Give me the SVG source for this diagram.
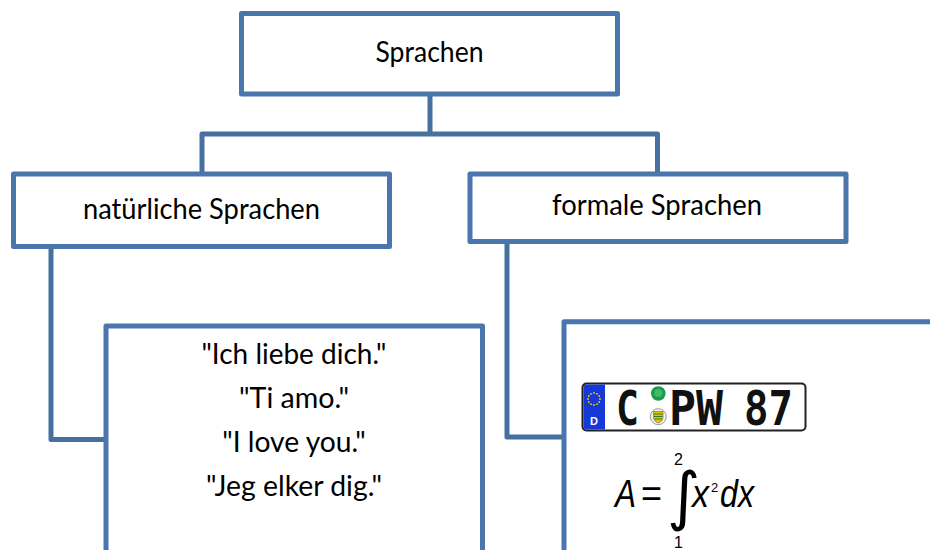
<svg xmlns="http://www.w3.org/2000/svg" width="930" height="550" viewBox="0 0 930 550">
<style>
.box{fill:#fff;stroke:#4A75AD;stroke-width:5;stroke-linejoin:round}
.con{fill:none;stroke:#46709F;stroke-width:5;stroke-linejoin:round}
.lbl{font-family:Lato,"Open Sans","Liberation Sans",sans-serif;font-size:28px;fill:#000;text-anchor:middle}
.plate{font-family:"DejaVu Sans Mono","Liberation Mono",monospace;font-weight:bold;font-size:48px;fill:#111}
.math{font-family:"Liberation Sans",Arial,sans-serif;fill:#000}
</style>
<rect width="930" height="550" fill="#fff"/>
<g id="connectors">
<path class="con" d="M430,94 V134"/>
<path class="con" d="M202,174 V134 H657.5 V174"/>
<path class="con" d="M51,246.5 V439.5 H106"/>
<path class="con" d="M507,241.5 V437 H564"/>
</g>
<g id="node-sprachen">
<rect class="box" x="241.5" y="13.5" width="376" height="80.5"/>
<text class="lbl" x="429.5" y="62" textLength="108" lengthAdjust="spacingAndGlyphs">Sprachen</text>
</g>
<g id="node-natuerlich">
<rect class="box" x="13.5" y="174" width="376" height="72.5"/>
<text class="lbl" x="201.5" y="219" textLength="237" lengthAdjust="spacingAndGlyphs">natürliche Sprachen</text>
</g>
<g id="node-formal">
<rect class="box" x="470" y="174" width="376" height="67.5"/>
<text class="lbl" x="657" y="215" textLength="210" lengthAdjust="spacingAndGlyphs">formale Sprachen</text>
</g>
<g id="node-beispiele-natuerlich">
<rect class="box" x="106" y="326" width="376.5" height="300"/>
<text class="lbl" x="294" y="364" textLength="185" lengthAdjust="spacingAndGlyphs">"Ich liebe dich."</text>
<text class="lbl" x="294" y="408" textLength="110" lengthAdjust="spacingAndGlyphs">"Ti amo."</text>
<text class="lbl" x="294" y="452" textLength="143.5" lengthAdjust="spacingAndGlyphs">"I love you."</text>
<text class="lbl" x="294" y="496" textLength="176" lengthAdjust="spacingAndGlyphs">"Jeg elker dig."</text>
</g>
<g id="node-beispiele-formal">
<rect class="box" x="564" y="321.7" width="400" height="300"/>
<g id="plate">
<rect x="582.5" y="383.5" width="223" height="47" rx="4" fill="#fff" stroke="#222" stroke-width="2"/>
<path d="M586.5,384.5 H605 V429.5 H586.5 Q583.5,429.5 583.5,426.5 V387.5 Q583.5,384.5 586.5,384.5 Z" fill="#1638D6"/>
<g fill="#F5D000">
<circle cx="594" cy="393" r="0.9"/><circle cx="597" cy="393.8" r="0.9"/><circle cx="599.2" cy="396" r="0.9"/>
<circle cx="600" cy="399" r="0.9"/><circle cx="599.2" cy="402" r="0.9"/><circle cx="597" cy="404.2" r="0.9"/>
<circle cx="594" cy="405" r="0.9"/><circle cx="591" cy="404.2" r="0.9"/><circle cx="588.8" cy="402" r="0.9"/>
<circle cx="588" cy="399" r="0.9"/><circle cx="588.8" cy="396" r="0.9"/><circle cx="591" cy="393.8" r="0.9"/>
</g>
<text x="594" y="425" font-family="'Liberation Sans',Arial,sans-serif" font-size="11" font-weight="bold" fill="#fff" text-anchor="middle">D</text>
<text class="plate" x="616" y="425" textLength="23" lengthAdjust="spacingAndGlyphs">C</text>
<circle cx="658.3" cy="393.5" r="7.3" fill="#1E9A4E"/>
<circle cx="658.3" cy="393" r="4" fill="#3DBB6A"/>
<circle cx="658.3" cy="416.7" r="8" fill="#F2F2F2" stroke="#999" stroke-width="1"/>
<path d="M653.5,411.5 H663 V417 Q663,421.5 658.3,423 Q653.5,421.5 653.5,417 Z" fill="#E8C200" stroke="#666" stroke-width="0.6"/>
<path d="M654,414 H662.5 M654,416.5 H662.5 M654.5,419 H662" stroke="#2C7A2C" stroke-width="1.1"/>
<text class="plate" x="669" y="425" textLength="54" lengthAdjust="spacingAndGlyphs">PW</text>
<text class="plate" x="744" y="425" textLength="49" lengthAdjust="spacingAndGlyphs">87</text>
</g>
<g id="formula">
<text class="math" x="615" y="507" font-size="38" font-style="italic" textLength="21" lengthAdjust="spacingAndGlyphs">A</text>
<text class="math" x="641" y="507" font-size="38" textLength="21" lengthAdjust="spacingAndGlyphs">=</text>
<text x="667" y="518" font-family="'DejaVu Sans',sans-serif" font-size="64" fill="#000">∫</text>
<text class="math" x="674" y="465" font-size="16">2</text>
<text class="math" x="674" y="548" font-size="16">1</text>
<text class="math" x="692" y="507" font-size="38" font-style="italic" textLength="17" lengthAdjust="spacingAndGlyphs">x</text>
<text class="math" x="711" y="492" font-size="13">2</text>
<text class="math" x="720" y="507" font-size="38" font-style="italic" textLength="34" lengthAdjust="spacingAndGlyphs">dx</text>
</g>
</g>
</svg>
